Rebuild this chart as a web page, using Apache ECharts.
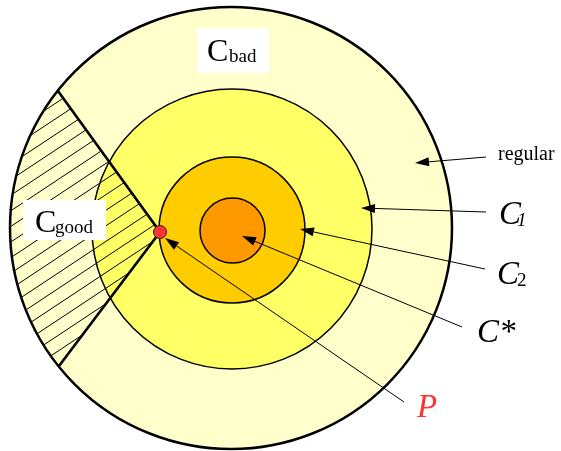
<!DOCTYPE html>
<html>
<head>
<meta charset="utf-8">
<script src="https://cdn.jsdelivr.net/npm/echarts@6/dist/echarts.min.js"></script>
<style>
  html, body { margin: 0; padding: 0; background: #fff; }
  #main { width: 561px; height: 451px; }
</style>
</head>
<body>
<div id="main"></div>
<script>
// rings, outermost first: regular, C1, C2, C*
var ringCx = [231, 232, 232, 232.5];
var ringCy = [228, 229, 230, 230.5];
var ringR = [221, 140, 73, 32.5];

// the good wedge: apex P and its two ends on the outer circle
var pointP = [160, 232];
var wedgeEndA = [58, 91];
var wedgeEndB = [59, 366];

// arrows, from the label to the tip
var arrowFrom = [[486, 157], [486, 212], [485, 269], [462, 327], [404, 402]];
var arrowTo = [[415, 163], [361, 208], [300, 229], [242, 236], [165, 238]];

// labels
var labelMain = ['regular', 'C', 'C', 'C*', 'P', 'C', 'C'];
var labelSub = ['', '1', '2', '', '', 'bad', 'good'];
var labelX = [498, 499, 497, 477, 417, 207, 35];
var labelSubX = [0, 517, 517, 0, 0, 229, 55];
var labelBase = [162, 227, 287, 345, 420, 63, 234];
// white boxes behind C_bad and C_good: x, y, w, h
var labelBoxes = [[197, 28, 72, 45], [23, 200, 83, 40]];

var ringColors = ['#FFFFCC', '#FFFF66', '#FFCC00', '#FF9900'];
var serif = '"Liberation Serif", "Times New Roman", serif';

var dom = document.getElementById('main');
var myChart = echarts.init(dom, null, {renderer: 'canvas'});

function ringItem(params, api) {
    var c = api.coord([api.value(0), api.value(1)]);
    var r = api.size([api.value(2), 0])[0];
    var i = params.dataIndex;
    return {
        type: 'circle',
        shape: {cx: c[0], cy: c[1], r: r},
        style: {fill: ringColors[i], stroke: '#000', lineWidth: i === 0 ? 2.5 : 1.5}
    };
}

function cross(a, b) {
    return a[0] * b[1] - a[1] * b[0];
}

// hatch lines clipped to outer disk and the wedge at P
function hatchItem(params, api) {
    var O = api.coord([ringCx[0], ringCy[0]]);
    var R = api.size([ringR[0], 0])[0];
    var P = api.coord([api.value(0), api.value(1)]);
    var A = api.coord([api.value(2), api.value(3)]);
    var B = api.coord([api.value(4), api.value(5)]);
    var Q = [O[0] - R + 2, O[1]];
    var edges = [A, B].map(function (E) {
        var e = [E[0] - P[0], E[1] - P[1]];
        var s = cross(e, [Q[0] - P[0], Q[1] - P[1]]) > 0 ? 1 : -1;
        return {e: e, s: s};
    });
    var th = 33.5 * Math.PI / 180;
    var d = [Math.cos(th), -Math.sin(th)];
    var n = [Math.sin(th), Math.cos(th)];
    var step = 13;
    var children = [];
    for (var k = -40; k <= 40; k++) {
        var X0 = [P[0] + n[0] * (k * step + 4), P[1] + n[1] * (k * step + 4)];
        var w = [X0[0] - O[0], X0[1] - O[1]];
        var b = w[0] * d[0] + w[1] * d[1];
        var c = w[0] * w[0] + w[1] * w[1] - R * R;
        var disc = b * b - c;
        if (disc <= 0) continue;
        var tmin = -b - Math.sqrt(disc), tmax = -b + Math.sqrt(disc);
        for (var j = 0; j < edges.length; j++) {
            var ed = edges[j];
            var f0 = ed.s * cross(ed.e, [X0[0] - P[0], X0[1] - P[1]]);
            var f1 = ed.s * cross(ed.e, d);
            if (Math.abs(f1) < 1e-9) {
                if (f0 < 0) tmax = -1e9;
                continue;
            }
            var t = -f0 / f1;
            if (f1 > 0) tmin = Math.max(tmin, t); else tmax = Math.min(tmax, t);
        }
        if (tmax - tmin < 0.5) continue;
        children.push({
            type: 'line',
            shape: {
                x1: X0[0] + d[0] * tmin, y1: X0[1] + d[1] * tmin,
                x2: X0[0] + d[0] * tmax, y2: X0[1] + d[1] * tmax
            },
            style: {stroke: '#000', lineWidth: 1}
        });
    }
    children.push({
        type: 'polyline',
        shape: {points: [A, P, B]},
        style: {stroke: '#000', lineWidth: 2.6, fill: null, lineJoin: 'miter'}
    });
    return {type: 'group', children: children};
}

function arrowItem(params, api) {
    var p0 = api.coord([api.value(0), api.value(1)]);
    var p1 = api.coord([api.value(2), api.value(3)]);
    var dx = p1[0] - p0[0], dy = p1[1] - p0[1];
    var len = Math.sqrt(dx * dx + dy * dy);
    var u = [dx / len, dy / len];
    var nv = [-u[1], u[0]];
    var L = 14, W = 4.5;
    var base = [p1[0] - u[0] * L, p1[1] - u[1] * L];
    return {
        type: 'group',
        children: [{
            type: 'line',
            shape: {x1: p0[0], y1: p0[1], x2: base[0], y2: base[1]},
            style: {stroke: '#000', lineWidth: 1}
        }, {
            type: 'polygon',
            shape: {points: [p1, [base[0] + nv[0] * W, base[1] + nv[1] * W], [base[0] - nv[0] * W, base[1] - nv[1] * W]]},
            style: {fill: '#000'}
        }]
    };
}

function boxItem(params, api) {
    var p = api.coord([api.value(0), api.value(1)]);
    var s = api.size([api.value(2), api.value(3)]);
    return {
        type: 'rect',
        shape: {x: p[0], y: p[1], width: s[0], height: s[1]},
        style: {fill: '#fff'}
    };
}

function labelItem(params, api) {
    var i = params.dataIndex;
    var main = labelMain[i], sub = labelSub[i];
    var big = i === 0 ? 20 : (i >= 5 ? 32 : 33);
    var italic = (i >= 1 && i <= 4) ? 'italic ' : '';
    var color = main === 'P' ? '#FF3333' : '#000';
    var p = api.coord([api.value(0), api.value(1)]);
    var children = [{
        type: 'text',
        x: p[0], y: p[1] - 0.34 * big,
        style: {text: main, font: italic + big + 'px ' + serif, fill: color, align: 'left', verticalAlign: 'middle'}
    }];
    if (sub) {
        var small = 19;
        var subItalic = sub === '1' ? 'italic ' : '';
        var q = api.coord([labelSubX[i], api.value(1)]);
        children.push({
            type: 'text',
            x: q[0], y: q[1] - 0.34 * small,
            style: {text: sub, font: subItalic + small + 'px ' + serif, fill: color, align: 'left', verticalAlign: 'middle'}
        });
    }
    return {type: 'group', children: children};
}

var option = {
    animation: false,
    grid: {left: 0, right: 0, top: 0, bottom: 0},
    xAxis: {type: 'value', min: 0, max: 561, show: false},
    yAxis: {type: 'value', min: 0, max: 451, inverse: true, show: false},
    series: [
        {
            type: 'custom', z: 1, clip: false,
            data: ringR.map(function (r, i) { return [ringCx[i], ringCy[i], r]; }),
            renderItem: ringItem
        },
        {
            type: 'custom', z: 2, clip: false,
            data: [[pointP[0], pointP[1], wedgeEndA[0], wedgeEndA[1], wedgeEndB[0], wedgeEndB[1]]],
            renderItem: hatchItem
        },
        {
            type: 'custom', z: 3, clip: false,
            data: arrowFrom.map(function (f, i) { return [f[0], f[1], arrowTo[i][0], arrowTo[i][1]]; }),
            renderItem: arrowItem
        },
        {
            type: 'scatter', z: 4,
            symbol: 'circle', symbolSize: 13,
            itemStyle: {color: '#FF3333', borderColor: '#222', borderWidth: 1, opacity: 1},
            data: [pointP]
        },
        {
            type: 'custom', z: 5, clip: false,
            data: labelBoxes,
            renderItem: boxItem
        },
        {
            type: 'custom', z: 6, clip: false,
            data: labelX.map(function (x, i) { return [x, labelBase[i]]; }),
            renderItem: labelItem
        }
    ]
};
myChart.setOption(option);
</script>
</body>
</html>
